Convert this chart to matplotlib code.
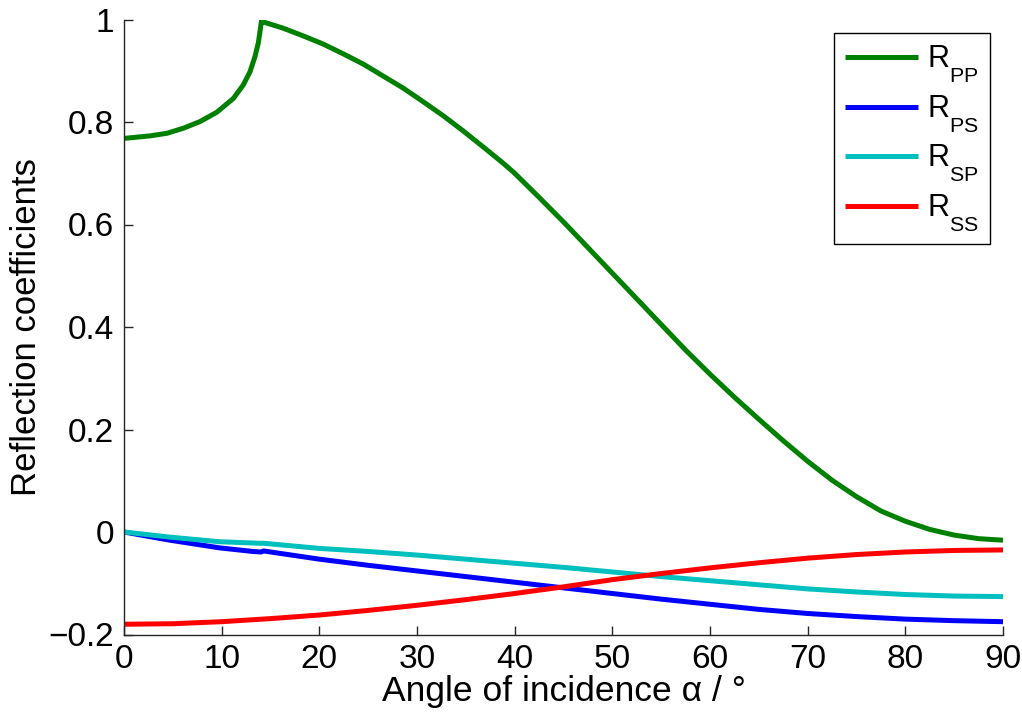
import matplotlib
matplotlib.use("Agg")
import matplotlib.pyplot as plt
import matplotlib._mathtext as _mt

plt.rcParams['font.family'] = ['Liberation Sans', 'DejaVu Sans']
plt.rcParams['mathtext.fontset'] = 'custom'
plt.rcParams['mathtext.rm'] = 'Liberation Sans'
plt.rcParams['mathtext.it'] = 'Liberation Sans'
# MATLAB-like deeper subscripts
_mt.FontConstantsBase.sub1 = 0.9

# Data
pp_angle = [0, 2.7, 4.4, 6.1, 7.8, 9.5, 11.2, 12.2, 12.9, 13.4, 13.75, 13.95, 14.1,
            14.3, 16.3, 18.35, 20.4, 22.45, 24.5, 26.5, 28.6, 30.6, 32.7, 34.7, 36.8, 38.8,
            40, 42.5, 45, 47.5, 50, 52.5, 55, 57.5, 60, 62.5, 65, 67.5, 70, 72.5, 75,
            77.5, 80, 82.5, 85, 87.5, 90]
pp_value = [0.768, 0.773, 0.778, 0.788, 0.801, 0.819, 0.846, 0.872, 0.898, 0.927, 0.954, 0.980, 1.0,
            0.995, 0.983, 0.968, 0.952, 0.933, 0.913, 0.890, 0.866, 0.840, 0.812, 0.783, 0.751, 0.720,
            0.700, 0.653, 0.605, 0.555, 0.505, 0.455, 0.405, 0.355, 0.308, 0.263, 0.220, 0.178, 0.138,
            0.101, 0.069, 0.041, 0.021, 0.005, -0.006, -0.013, -0.016]

ps_angle = [0, 4.7, 9.8, 13.2, 14.0, 14.3, 20, 25, 30, 35, 40, 45, 50, 55, 60, 65, 70, 75,
            80, 85, 90]
ps_value = [0, -0.016, -0.031, -0.038, -0.039, -0.037, -0.053, -0.065, -0.076, -0.087, -0.098,
            -0.109, -0.120, -0.131, -0.141, -0.151, -0.159, -0.165, -0.170, -0.173, -0.175]

sp_angle = [0, 4.7, 9.8, 13.9, 14.3, 20, 25, 30, 35, 40, 45, 50, 55, 60, 65, 70, 75, 80, 85, 90]
sp_value = [0, -0.010, -0.019, -0.022, -0.022, -0.032, -0.038, -0.045, -0.053, -0.061, -0.069,
            -0.078, -0.087, -0.095, -0.103, -0.111, -0.117, -0.122, -0.125, -0.126]

ss_angle = [0, 5, 10, 15, 20, 25, 30, 35, 40, 45, 50, 55, 60, 65, 70, 75, 80, 85, 90]
ss_value = [-0.180, -0.179, -0.175, -0.169, -0.162, -0.153, -0.143, -0.132, -0.120, -0.107,
            -0.093, -0.081, -0.070, -0.060, -0.051, -0.044, -0.039, -0.036, -0.035]

labels = [r'$\mathregular{R_{PP}}$', r'$\mathregular{R_{PS}}$',
          r'$\mathregular{R_{SP}}$', r'$\mathregular{R_{SS}}$']
colors = ['#008000', '#0000ff', '#00bfbf', '#ff0000']

x_ticks = [0, 10, 20, 30, 40, 50, 60, 70, 80, 90]
y_ticks = [-0.2, 0, 0.2, 0.4, 0.6, 0.8, 1]
y_ticklabels = ['\u22120.2', '0', '0.2', '0.4', '0.6', '0.8', '1']

fig = plt.figure(figsize=(10.22, 7.17), dpi=100)
ax = fig.add_axes([124 / 1022, 1 - 634.5 / 717, 879 / 1022, 615 / 717])

lw = 3.6
series = [(pp_angle, pp_value), (ps_angle, ps_value), (sp_angle, sp_value), (ss_angle, ss_value)]
for (xa, ya), lab, c in zip(series, labels, colors):
    ax.plot(xa, ya, color=c, lw=lw, label=lab, solid_joinstyle='round', solid_capstyle='butt')

ax.set_xlim(0, 90)
ax.set_ylim(-0.2, 1)
ax.set_xticks(x_ticks)
ax.set_xticklabels([str(t) for t in x_ticks])
ax.set_yticks(y_ticks)
ax.set_yticklabels(y_ticklabels)

for s in ['top', 'right']:
    ax.spines[s].set_visible(False)
for s in ['left', 'bottom']:
    ax.spines[s].set_color('#262626')
    ax.spines[s].set_linewidth(1.0)

ax.tick_params(direction='in', length=6.5, width=1.0, labelsize=24, color='#262626', pad=7)

ax.set_xlabel('Angle of incidence \u03b1 / \u00b0', fontsize=25.5, labelpad=0)
ax.set_ylabel('Reflection coefficients', fontsize=25, labelpad=4)

leg = ax.legend(loc='upper right', bbox_to_anchor=(0.985, 0.978), borderaxespad=0,
                fontsize=22, fancybox=False, framealpha=1, edgecolor='black',
                handlelength=2.4, handletextpad=0.3, labelspacing=0.27,
                borderpad=0.35)
leg.get_frame().set_linewidth(1.0)

fig.savefig('out.png', dpi=100)
